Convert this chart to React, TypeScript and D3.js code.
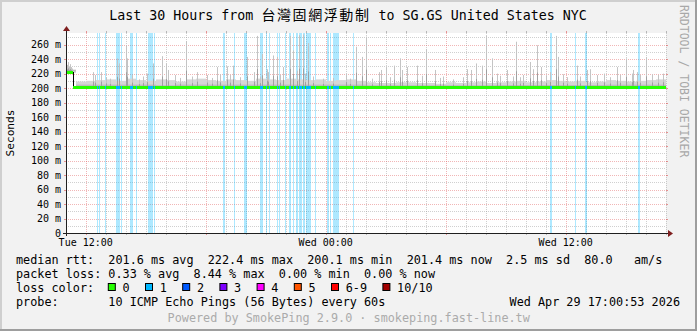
import React from "react";
import * as d3 from "d3";

const W = 697;
const H = 331;

const START = Date.UTC(2026, 3, 28, 11, 0, 53);
const END = Date.UTC(2026, 3, 29, 17, 0, 53);

const titleParts = ["Last 30 Hours from ", "台灣固網浮動制", " to SG.GS United States NYC"];

const yTickValues = [0, 20, 40, 60, 80, 100, 120, 140, 160, 180, 200, 220, 240, 260];
const yMinorValues = [10, 30, 50, 70, 90, 110, 130, 150, 170, 190, 210, 230, 250, 270];

// median rtt (ms) change points, hours from start
const medianHours = [0, 0.35, 4.7, 5.7, 15, 21.7, 27];
const medianValues = [222.4, 201.8, 200.9, 201.8, 200.9, 201.2, 201.6];

// top of the light smoke band, per half hour (ms)
const smokeTop = [
  212, 209, 210, 211, 212, 210, 213, 211, 210, 212, 211, 209, 212, 213, 211,
  210, 212, 211, 210, 213, 212, 211, 213, 212, 211, 212, 210, 211, 212, 210,
  208, 207, 207, 208, 208, 207, 207, 206, 208, 207, 208, 209, 207, 208, 209,
  210, 208, 209, 211, 210, 209, 210, 208, 209, 211, 210, 209, 210, 211, 212,
];

// loss (1/10) periods: start hour and number of 3-minute steps
const lossHours = [
  1.55, 1.65, 1.95, 2.5, 2.75, 3.2, 3.5, 4.1, 4.4, 7.85, 8.4, 8.9, 9.7, 10.0,
  10.15, 10.55, 10.65, 10.95, 11.15, 11.35, 11.5, 11.65, 11.85, 12.0, 12.45,
  13.05, 13.2, 13.35, 14.35, 24.2, 25.45, 25.95, 28.6,
];
const lossSteps = [
  1, 1, 1, 4, 1, 3, 1, 5, 1, 2, 1, 3, 3, 1, 1, 1, 1, 1, 2, 1, 2, 3, 2, 5, 1, 2,
  1, 6, 1, 2, 1, 2, 2,
];

// smoke spikes: hour and max ping (ms)
const spikeHours = [
  0, 0.05, 0.1, 0.15, 0.2, 0.25, 0.3, 1.35, 1.45, 1.75, 2.0, 2.2, 2.55, 2.65,
  3.0, 3.05, 3.3, 3.65, 3.85, 4.05, 4.35, 4.8, 5.0, 5.1, 5.45, 5.7, 6.0, 6.3,
  6.55, 7.05, 7.3, 7.55, 7.7, 8.05, 8.2, 8.35, 8.7, 9.05, 9.4, 9.55, 9.7, 9.8,
  10.05, 10.1, 10.35, 10.55, 10.7, 10.85, 11.2, 11.35, 11.55, 11.65, 11.85,
  11.95, 12.1, 12.35, 12.85, 13.35, 14.0, 14.2, 14.5, 14.8, 15.0, 15.3, 15.65,
  15.75, 16.0, 16.2, 16.4, 16.7, 16.8, 17.05, 17.55, 17.8, 18.0, 18.45, 18.7,
  18.85, 19.35, 19.85, 20.05, 20.25, 20.5, 20.8, 21.0, 21.3, 21.55, 21.7,
  22.05, 22.35, 22.5, 22.7, 22.85, 23.2, 23.35, 23.55, 23.75, 24.0, 24.2, 24.5,
  24.6, 24.85, 25.05, 25.55, 25.7, 26.05, 26.2, 26.55, 26.9, 27.2, 27.55, 27.7,
  28.0, 28.3, 28.35, 28.55, 28.7, 29.0, 29.3, 29.6, 29.85,
];
const spikeValues = [
  235, 232, 236, 230, 233, 229, 227, 222, 218, 222, 215, 213, 241, 234, 259,
  241, 218, 212, 216, 220, 234, 244, 234, 225, 218, 214, 265, 216, 222, 218,
  214, 229, 219, 230, 218, 231, 215, 243, 222, 272, 216, 247, 226, 222, 245,
  243, 218, 229, 272, 252, 224, 273, 274, 220, 262, 216, 213, 214, 220, 213,
  257, 243, 271, 213, 222, 225, 229, 215, 231, 241, 225, 229, 231, 217, 254,
  225, 214, 216, 212, 215, 226, 225, 234, 231, 272, 241, 220, 217, 225, 216,
  264, 215, 218, 236, 226, 259, 229, 217, 222, 272, 243, 219, 215, 231, 216,
  225, 226, 218, 220, 215, 229, 218, 241, 220, 225, 222, 218, 243, 219, 218,
  220,
];

const lossColors = ["#26ff00", "#00b8ff", "#0059ff", "#7e00ff", "#ff00ff", "#ff5500", "#ff0000", "#a10000"];
const lossLabels = ["0", "1", "2", "3", "4", "5", "6-9", "10/10"];

const legendRows = [
  "median rtt:  201.6 ms avg  222.4 ms max  200.1 ms min  201.4 ms now  2.5 ms sd  80.0   am/s",
  "packet loss: 0.33 % avg  8.44 % max  0.00 % min  0.00 % now",
];
const lossLegendTitle = "loss color:";
const probeLabel = "probe:       10 ICMP Echo Pings (56 Bytes) every 60s";
const stamp = "Wed Apr 29 17:00:53 2026";
const footer = "Powered by SmokePing 2.9.0 · smokeping.fast-line.tw";
const sideText = "RRDTOOL / TOBI OETIKER";
const yLabel = "Seconds";

const MONO = "'DejaVu Sans Mono', 'Noto Sans CJK TC', monospace";

export default function App() {
  const left = 66, right = 666, top = 33, bottom = 233;
  const x = d3.scaleUtc().domain([new Date(START), new Date(END)]).range([left, right]);
  const y = d3.scaleLinear().domain([0, 276]).range([bottom, top]);
  const tAt = (h: number) => new Date(START + h * 3600e3);
  const medianAt = (h: number) => {
    let v = medianValues[0];
    for (let i = 0; i < medianHours.length; i++) if (medianHours[i] <= h + 1e-9) v = medianValues[i];
    return v;
  };
  const hourTicks = x.ticks(d3.utcHour.every(1) as any);
  const fmt = d3.utcFormat("%a %H:%M");
  const stepW = x(tAt(0.05)) - x(tAt(0));

  const charW = 7.1;
  const legendFont = 11.8;

  let cx = 16 + 13 * charW - 0.5;
  const swatches = lossLabels.map((lab, i) => {
    const sx = cx;
    cx = sx + 14.7 + lab.length * charW + 15.4;
    return { sx, lab, color: lossColors[i] };
  });

  const gridOp = 0.42;

  return (
    <svg
      width={W}
      height={H}
      style={{ position: "absolute", left: 0, top: 0 }}
      fontFamily={MONO}
    >
      <rect x={0} y={0} width={W} height={H} fill="#f2f2f2" />
      <rect x={0} y={0} width={W} height={2} fill="#cfcfcf" />
      <rect x={0} y={0} width={2} height={H} fill="#cfcfcf" />
      <rect x={0} y={H - 2} width={W} height={2} fill="#9e9e9e" />
      <rect x={W - 2} y={0} width={2} height={H} fill="#9e9e9e" />

      <text x={348} y={19.5} textAnchor="middle" fontSize={13.3} fill="#000">
        <tspan>{titleParts[0]}</tspan>
        <tspan fontSize={14} letterSpacing={1.6}>{titleParts[1]}</tspan>
        <tspan>{titleParts[2]}</tspan>
      </text>

      <rect x={left} y={top} width={right - left} height={bottom - top} fill="#ffffff" />

      {yMinorValues.map((v) => (
        <line key={"ym" + v} x1={left} x2={right} y1={Math.round(y(v)) + 0.5} y2={Math.round(y(v)) + 0.5}
          stroke="#8f8f8f" strokeOpacity={gridOp} strokeDasharray="1,1" />
      ))}
      {hourTicks.map((t) => {
        const major = t.getUTCHours() % 6 === 0;
        const px = Math.round(x(t)) + 0.5;
        return (
          <g key={"xg" + t.getTime()}>
            <line x1={px} x2={px} y1={top} y2={bottom}
              stroke={major ? "#de5050" : "#8f8f8f"} strokeOpacity={gridOp} strokeDasharray="1,1" />
            <line x1={px} x2={px} y1={bottom} y2={bottom + 2} stroke={major ? "#de5050" : "#8f8f8f"} strokeOpacity={0.6} />
            <line x1={px} x2={px} y1={top - 2} y2={top} stroke={major ? "#de5050" : "#8f8f8f"} strokeOpacity={0.6} />
          </g>
        );
      })}
      {yTickValues.slice(1).map((v) => {
        const py = Math.round(y(v)) + 0.5;
        return (
          <g key={"yg" + v}>
            <line x1={left} x2={right} y1={py} y2={py} stroke="#de5050" strokeOpacity={gridOp} strokeDasharray="1,1" />
            <line x1={left - 2} x2={left} y1={py} y2={py} stroke="#de5050" strokeOpacity={0.6} />
            <line x1={right} x2={right + 2} y1={py} y2={py} stroke="#de5050" strokeOpacity={0.6} />
          </g>
        );
      })}

      {lossHours.map((h, i) => (
        <rect key={"lb" + i} x={Math.round(x(tAt(h)))} y={top} width={Math.max(1, Math.round(lossSteps[i] * stepW))}
          height={bottom - top} fill="#00b8ff" fillOpacity={0.32} />
      ))}

      {smokeTop.map((v, i) => {
        const h = i * 0.5;
        const m = medianAt(h + 0.25);
        const x1 = Math.round(x(tAt(h)));
        const x2 = Math.round(x(tAt(h + 0.5)));
        const yt = y(Math.max(v, m));
        return (
          <g key={"sb" + i}>
            <rect x={x1} y={yt} width={x2 - x1} height={Math.max(0, y(m - 1.5) - yt)} fill="#d6d6d6" />
            <rect x={x1} y={y(m + 3)} width={x2 - x1} height={y(m) - y(m + 3)} fill="#bcbcbc" />
          </g>
        );
      })}
      {spikeHours.map((h, i) => {
        const m = medianAt(h);
        const x1 = Math.round(x(tAt(h)));
        const mid = m + (spikeValues[i] - m) * 0.35;
        return (
          <g key={"sp" + i}>
            <rect x={x1} y={y(spikeValues[i])} width={1} height={y(m) - y(spikeValues[i])} fill="#c4c4c4" />
            <rect x={x1} y={y(mid)} width={1} height={y(m) - y(mid)} fill="#a0a0a0" />
          </g>
        );
      })}

      {medianHours.map((h, i) => {
        const h2 = i + 1 < medianHours.length ? medianHours[i + 1] : 30;
        const x1 = Math.round(x(tAt(h)));
        const x2 = Math.round(x(tAt(h2)));
        const v = medianValues[i];
        return (
          <g key={"md" + i}>
            <rect x={x1} y={Math.round(y(v)) - 1} width={x2 - x1} height={3} fill={lossColors[0]} />
            {i + 1 < medianHours.length && Math.abs(medianValues[i + 1] - v) > 3 ? (
              <rect x={x2} y={Math.round(y(v))} width={1}
                height={Math.round(y(medianValues[i + 1])) - Math.round(y(v))} fill="#000" />
            ) : null}
          </g>
        );
      })}
      {lossHours.map((h, i) => (
        <rect key={"lm" + i} x={Math.round(x(tAt(h)))} y={Math.round(y(medianAt(h))) - 1}
          width={Math.max(1, Math.round(lossSteps[i] * stepW))} height={3} fill={lossColors[1]} />
      ))}

      <line x1={left - 3} x2={right + 3} y1={bottom + 0.5} y2={bottom + 0.5} stroke="#202020" />
      <line x1={left + 0.5} x2={left + 0.5} y1={bottom + 3} y2={top - 3} stroke="#202020" />
      <path d={`M${right + 2},${bottom - 3} L${right + 7},${bottom + 0.5} L${right + 2},${bottom + 4} Z`} fill="#7f1f1f" />
      <path d={`M${left - 3},${top - 2} L${left + 0.5},${top - 7} L${left + 4},${top - 2} Z`} fill="#7f1f1f" />

      {yTickValues.map((v) => (
        <text key={"yl" + v} x={61} y={y(v) + 3.5} textAnchor="end" fontSize={10} fill="#000">
          {v === 0 ? "0" : `${v} m`}
        </text>
      ))}
      <text transform={`translate(14,${133}) rotate(-90)`} textAnchor="middle" fontSize={11.2} fill="#000">
        {yLabel}
      </text>

      {hourTicks.filter((t) => t.getUTCHours() % 12 === 0).map((t) => (
        <text key={"xl" + t.getTime()} x={x(t)} y={246} textAnchor="middle" fontSize={10} fill="#000">
          {fmt(t)}
        </text>
      ))}

      <text transform={`translate(680,5) rotate(90)`} fontSize={11.5} fill="#a8a8a8">
        {sideText}
      </text>

      {legendRows.map((r, i) => (
        <text key={"lr" + i} x={16} y={263.5 + i * 14} fontSize={legendFont} fill="#000" style={{ whiteSpace: "pre" }}>
          {r}
        </text>
      ))}
      <text x={16} y={291.5} fontSize={legendFont} fill="#000">{lossLegendTitle}</text>
      {swatches.map((s, i) => (
        <g key={"sw" + i}>
          <rect x={s.sx + 0.5} y={283.5} width={7} height={7} fill={s.color} stroke="#000" />
          <text x={s.sx + 14.7} y={291.5} fontSize={legendFont} fill="#000">{s.lab}</text>
        </g>
      ))}
      <text x={16} y={305.5} fontSize={legendFont} fill="#000" style={{ whiteSpace: "pre" }}>{probeLabel}</text>
      <text x={680} y={305.5} textAnchor="end" fontSize={legendFont} fill="#000">{stamp}</text>
      <text x={348.7} y={322} textAnchor="middle" fontSize={legendFont} fill="#ababab">{footer}</text>
    </svg>
  );
}
